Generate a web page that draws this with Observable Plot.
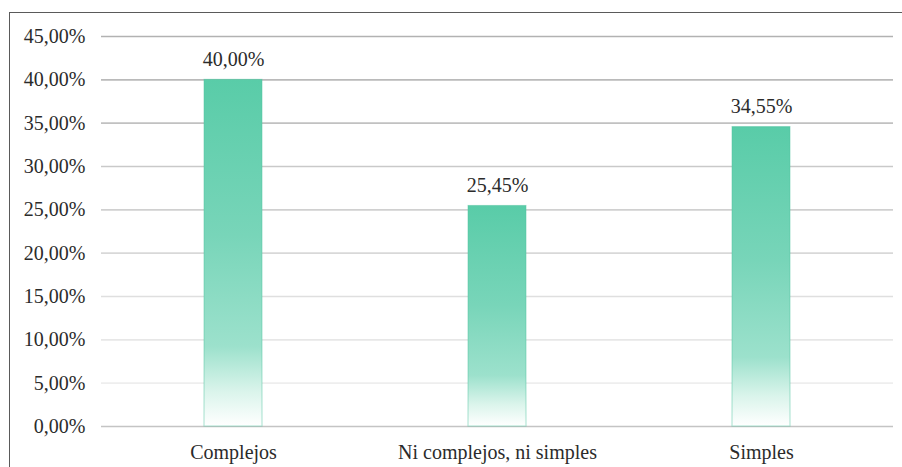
<!DOCTYPE html>
<html>
<head>
<meta charset="utf-8">
<script src="https://cdn.jsdelivr.net/npm/d3@7"></script>
<script src="https://cdn.jsdelivr.net/npm/@observablehq/plot@0.6"></script>
<style>
  html, body { margin: 0; padding: 0; background: #fff; overflow: hidden; }
  #wrap { position: relative; width: 902px; height: 467px; }
  #frame {
    position: absolute; left: 9px; top: 12px; width: 920px; height: 480px;
    border: 1.5px solid #5a5a5a; pointer-events: none; box-sizing: border-box;
  }
</style>
</head>
<body>
<div id="wrap"><div id="frame"></div></div>
<script>
// Response categories and their share of answers (%)
const categories = ["Complejos", "Ni complejos, ni simples", "Simples"];
const shares = [40.00, 25.45, 34.55];
const yTicks = [0, 5, 10, 15, 20, 25, 30, 35, 40, 45];

const data = categories.map((c, i) => ({category: c, share: shares[i]}));
const pct = v => v.toFixed(2).replace(".", ",") + "%";
const serif = "Liberation Serif, Tinos, DejaVu Serif, Times New Roman, serif";

// Grid lines get lighter toward the bottom; the baseline is a bit darker
const gridShade = d3.interpolateRgb("#eeeeee", "#b2b2b2");
const gridColor = v => v === 0 ? "#c4c4c4" : gridShade((v - 5) / 40);

// Vertical fade used to fill each bar
const gradient = () => {
  const defs = d3.create("svg:defs");
  const g = defs.append("linearGradient")
    .attr("id", "barFade").attr("x1", 0).attr("y1", 0).attr("x2", 0).attr("y2", 1);
  [[0, "#59cca8"], [0.45, "#78d5b9"], [0.77, "#9ce1cc"], [0.9, "#daf4eb"], [1, "#ffffff"]]
    .forEach(([o, c]) => g.append("stop").attr("offset", o).attr("stop-color", c));
  return defs.node();
};

const chart = Plot.plot({
  width: 902,
  height: 467,
  marginLeft: 101,
  marginRight: 9,
  marginTop: 36,
  marginBottom: 41,
  style: {fontSize: "20px", fontFamily: serif, color: "#2b2b2b", background: "transparent"},
  x: {domain: categories, paddingInner: 0.78, paddingOuter: 0.39, label: null},
  y: {domain: [0, 45], label: null},
  color: {type: "identity"},
  marks: [
    gradient,
    Plot.ruleY(yTicks, {y: d => d, stroke: gridColor, strokeWidth: 1.6}),
    Plot.barY(data, {x: "category", y: "share", fill: "url(#barFade)", stroke: "#52c49f", strokeOpacity: 0.5, strokeWidth: 1}),
    Plot.text(data, {x: "category", y: "share", text: d => pct(d.share), dy: -20, fill: "#2b2b2b"}),
    Plot.axisY({ticks: yTicks, tickSize: 0, tickPadding: 16, tickFormat: pct, label: null}),
    Plot.axisX({tickSize: 0, tickPadding: 18, label: null})
  ]
});
chart.querySelectorAll("text").forEach(t => t.setAttribute("font-family", serif));
chart.style.position = "absolute";
chart.style.left = "0";
chart.style.top = "0";
document.getElementById("wrap").prepend(chart);
</script>
</body>
</html>
